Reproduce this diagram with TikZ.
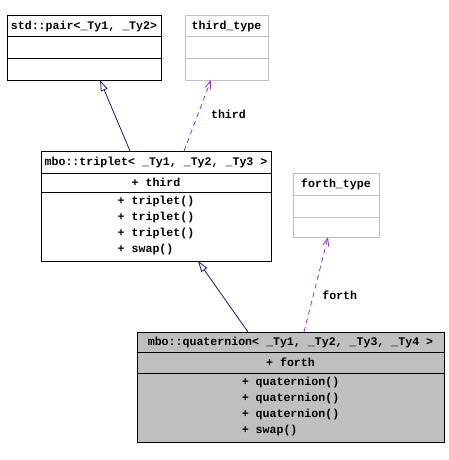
\documentclass[tikz,border=0pt]{standalone}
\usepackage{fontspec}
\setmonofont{Liberation Mono}
\usetikzlibrary{arrows.meta,calc}
\definecolor{inh}{HTML}{191970}
\definecolor{usg}{HTML}{9A32CD}
\definecolor{gbox}{HTML}{BFBFBF}
\begin{document}
\begin{tikzpicture}[x=1pt,y=-1pt,
  every node/.style={font=\ttfamily\bfseries\fontsize{11.6}{16}\selectfont, inner sep=0pt, outer sep=0pt},
  comp/.style={draw=black, line width=1pt, anchor=north west, align=center},
  gcomp/.style={comp, draw=gbox},
  qcomp/.style={comp, fill=gbox},
  inhline/.style={draw=inh, line width=0.8pt, -{Triangle[open, length=11pt, width=7pt, fill=white]}},
  usgline/.style={draw=usg, line width=0.8pt, dash pattern=on 5pt off 4pt, -{Straight Barb[length=8pt, width=6pt]}},
  lbl/.style={font=\ttfamily\bfseries\fontsize{11.6}{16}\selectfont}]
\useasboundingbox (0,0) rectangle (449,460);
% std::pair
\node[comp, minimum width=154pt, minimum height=21pt] (pairH) at (7,16) {std::pair<\_Ty1, \_Ty2>};
\node[comp, minimum width=154pt, minimum height=22pt] (pairA) at (7,37) {};
\node[comp, minimum width=154pt, minimum height=21pt] (pairM) at (7,59) {};
% third_type
\node[gcomp, minimum width=83pt, minimum height=21pt] (ttH) at (185,16) {third\_type};
\node[gcomp, minimum width=83pt, minimum height=22pt] (ttA) at (185,37) {};
\node[gcomp, minimum width=83pt, minimum height=21pt] (ttM) at (185,59) {};
% triplet
\node[comp, minimum width=230pt, minimum height=22pt] (triH) at (41,151) {mbo::triplet< \_Ty1, \_Ty2, \_Ty3 >};
\node[comp, minimum width=230pt, minimum height=19pt] (triA) at (41,173) {+ third};
\node[comp, minimum width=230pt, minimum height=69pt] (triM) at (41,192) {};
\node[align=left] (triMt) at ($(triM.center)+(0,-1)$) {+ triplet()\\+ triplet()\\+ triplet()\\+ swap()};
% forth_type
\node[gcomp, minimum width=86pt, minimum height=22pt] (ftH) at (293,173) {forth\_type};
\node[gcomp, minimum width=86pt, minimum height=22pt] (ftA) at (293,195) {};
\node[gcomp, minimum width=86pt, minimum height=20pt] (ftM) at (293,217) {};
% quaternion
\node[qcomp, minimum width=307pt, minimum height=20pt] (quaH) at (137,332) {mbo::quaternion< \_Ty1, \_Ty2, \_Ty3, \_Ty4 >};
\node[qcomp, minimum width=307pt, minimum height=21pt] (quaA) at (137,352) {+ forth};
\node[qcomp, minimum width=307pt, minimum height=69pt] (quaM) at (137,373) {};
\node[align=left] (quaMt) at ($(quaM.center)+(0,-1)$) {+ quaternion()\\+ quaternion()\\+ quaternion()\\+ swap()};
% connectors
\draw[inhline] ($(triH.north west)+(89,0)$) -- ($(pairM.south west)+(93,0)$);
\draw[inhline] ($(quaH.north west)+(111,0)$) -- ($(triM.south west)+(157,0)$);
\draw[usgline] ($(triH.north west)+(143,0)$) -- node[lbl, pos=0.52, anchor=west, xshift=13pt] (lthird) {third} ($(ttM.south west)+(26,0)$);
\draw[usgline] ($(quaH.north west)+(167,0)$) -- node[lbl, pos=0.39, anchor=west, xshift=9pt] (lforth) {forth} ($(ftM.south west)+(35,0)$);
\end{tikzpicture}
\end{document}
